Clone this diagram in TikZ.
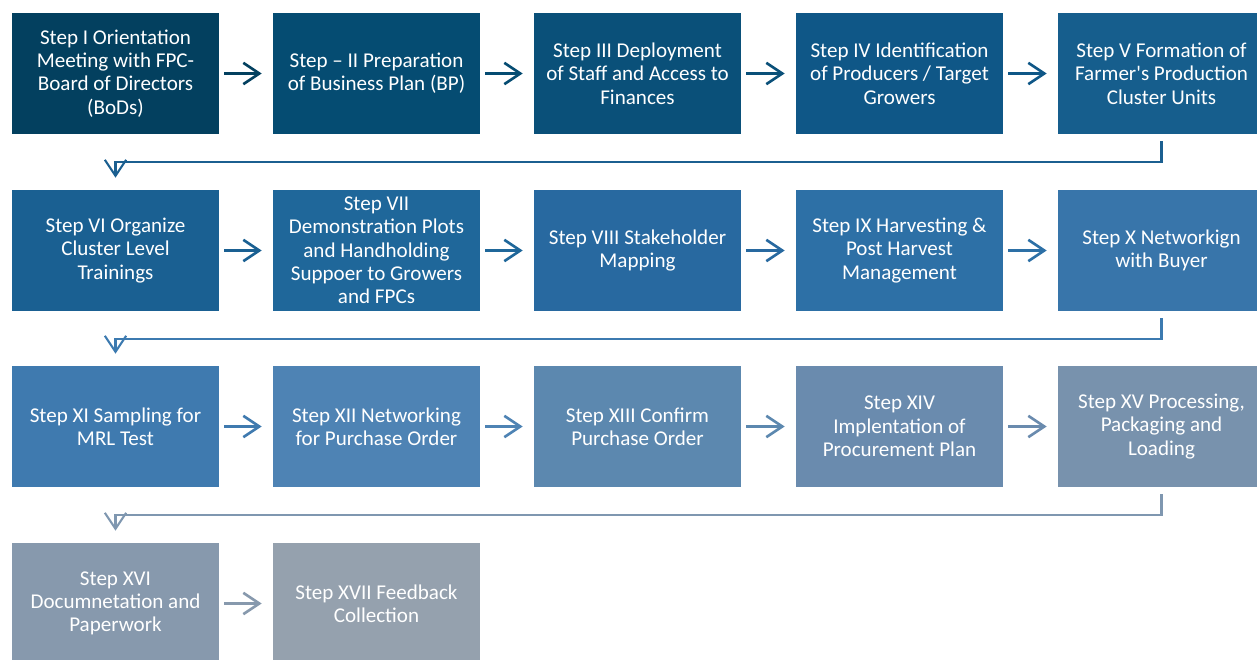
\documentclass[tikz,border=0pt]{standalone}
\usepackage{fontspec}
\setmainfont{Carlito}
\usetikzlibrary{arrows.meta}
\definecolor{c1}{HTML}{03405F}
\definecolor{c2}{HTML}{054C72}
\definecolor{c3}{HTML}{0A5079}
\definecolor{c4}{HTML}{0F5787}
\definecolor{c5}{HTML}{165E8D}
\definecolor{c6}{HTML}{1A6092}
\definecolor{c7}{HTML}{1F679A}
\definecolor{c8}{HTML}{2869A0}
\definecolor{c9}{HTML}{2D70A6}
\definecolor{c10}{HTML}{3875AA}
\definecolor{c11}{HTML}{3F7AAF}
\definecolor{c12}{HTML}{4E83B4}
\definecolor{c13}{HTML}{5C88AF}
\definecolor{c14}{HTML}{6A8BAE}
\definecolor{c15}{HTML}{7892AD}
\definecolor{c16}{HTML}{8799AD}
\definecolor{c17}{HTML}{95A1AE}
\definecolor{e1}{HTML}{1B5F90}
\definecolor{e2}{HTML}{3C7AB0}
\definecolor{e3}{HTML}{7F97B0}
\tikzset{
  stepbox/.style={fill=#1, draw=none, minimum width=155.25pt, minimum height=90.75pt,
    inner sep=0pt, align=center, text=white,
    font=\fontsize{15.8pt}{17.5pt}\selectfont},
  flow/.style={draw=#1, line width=2pt, shorten <=3.75pt, shorten >=8.25pt,
    -{Straight Barb[length=12pt,width=16pt,line width=2pt]}},
  elbow/.style={draw=#1, line width=1.6pt, shorten >=9pt, line join=miter,
    -{Straight Barb[length=12pt,width=16pt,line width=1.6pt]}}
}
\begin{document}
\begin{tikzpicture}[x=0.75pt,y=-0.75pt]
\useasboundingbox (0,0) rectangle (1257,660);
\clip (0,0) rectangle (1257,660);
% row 1
\node[stepbox=c1] (b1) at (115.5,73.5) {Step I Orientation\\Meeting with FPC-\\Board of Directors\\(BoDs)};
\node[stepbox=c2] (b2) at (376.5,73.5) {Step – II Preparation\\of Business Plan (BP)};
\node[stepbox=c3] (b3) at (637.5,73.5) {Step III Deployment\\of Staff and Access to\\Finances};
\node[stepbox=c4] (b4) at (899.5,73.5) {Step IV Identification\\of Producers / Target\\Growers};
\node[stepbox=c5] (b5) at (1161.5,73.5) {Step V Formation of\\Farmer\textquotesingle s Production\\Cluster Units};
% row 2
\node[stepbox=c6] (b6) at (115.5,250.5) {Step VI Organize\\Cluster Level\\Trainings};
\node[stepbox=c7] (b7) at (376.5,250.5) {Step VII\\Demonstration Plots\\and Handholding\\Suppoer to Growers\\and FPCs};
\node[stepbox=c8] (b8) at (637.5,250.5) {Step VIII Stakeholder\\Mapping};
\node[stepbox=c9] (b9) at (899.5,250.5) {Step IX Harvesting \&\\Post Harvest\\Management};
\node[stepbox=c10] (b10) at (1161.5,250.5) {Step X Networkign\\with Buyer};
% row 3
\node[stepbox=c11] (b11) at (115.5,426.5) {Step XI Sampling for\\MRL Test};
\node[stepbox=c12] (b12) at (376.5,426.5) {Step XII Networking\\for Purchase Order};
\node[stepbox=c13] (b13) at (637.5,426.5) {Step XIII Confirm\\Purchase Order};
\node[stepbox=c14] (b14) at (899.5,426.5) {Step XIV\\Implentation of\\Procurement Plan};
\node[stepbox=c15] (b15) at (1161.5,426.5) {Step XV Processing,\\Packaging and\\Loading};
% row 4
\node[stepbox=c16] (b16) at (115.5,603.5) {Step XVI\\Documnetation and\\Paperwork};
\node[stepbox=c17] (b17) at (376.5,603.5) {Step XVII Feedback\\Collection};
% horizontal arrows
\draw[flow=c1] (b1) -- (b2);
\draw[flow=c2] (b2) -- (b3);
\draw[flow=c3] (b3) -- (b4);
\draw[flow=c4] (b4) -- (b5);
\draw[flow=c6] (b6) -- (b7);
\draw[flow=c7] (b7) -- (b8);
\draw[flow=c8] (b8) -- (b9);
\draw[flow=c9] (b9) -- (b10);
\draw[flow=c11] (b11) -- (b12);
\draw[flow=c12] (b12) -- (b13);
\draw[flow=c13] (b13) -- (b14);
\draw[flow=c14] (b14) -- (b15);
\draw[flow=c16] (b16) -- (b17);
% elbow connectors
\draw[elbow=e1] ([yshift=-5.25pt]b5.south) -- ([yshift=-21pt]b5.south) -| (b6.north);
\draw[elbow=e2] ([yshift=-5.25pt]b10.south) -- ([yshift=-21pt]b10.south) -| (b11.north);
\draw[elbow=e3] ([yshift=-5.25pt]b15.south) -- ([yshift=-21pt]b15.south) -| (b16.north);
\end{tikzpicture}
\end{document}
